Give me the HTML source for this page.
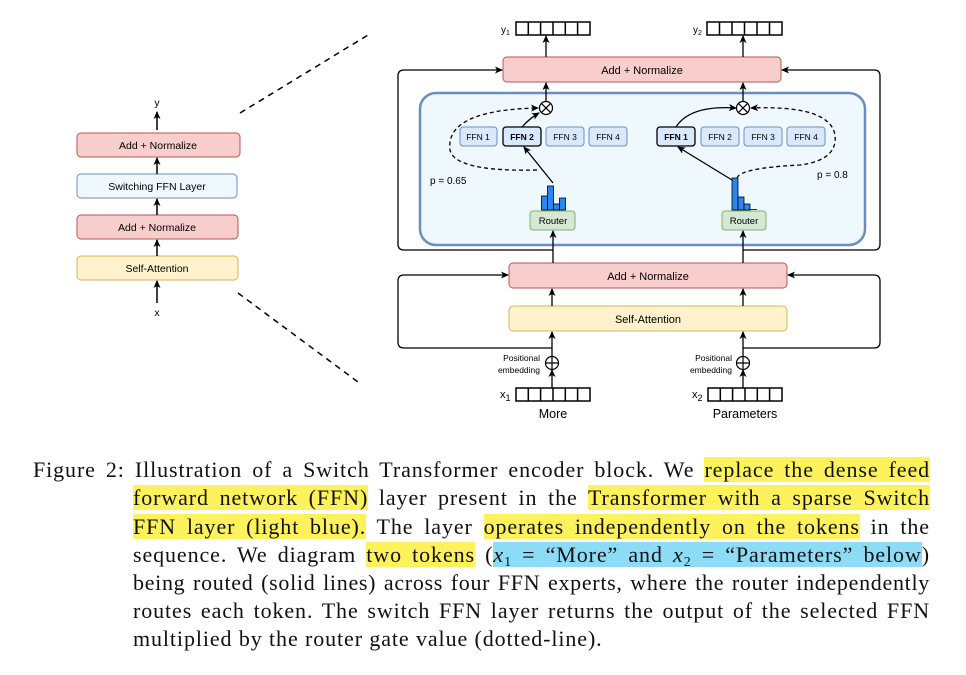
<!DOCTYPE html>
<html><head><meta charset="utf-8"><style>
body{margin:0;width:966px;height:675px;background:#fff;position:relative;overflow:hidden}
svg{position:absolute;left:0;top:0}
.cap{position:absolute;font-family:"Liberation Serif",serif;font-size:22px;letter-spacing:0.9px;line-height:28px;color:#111;white-space:nowrap}
.j{text-align:justify;text-align-last:justify;width:797px;left:133px}
.y{background:#fdf25b}.b{background:#8ddcf5}
i{font-style:italic}
sub{font-size:14px;line-height:0;vertical-align:-4px}
</style></head><body>
<svg width="966" height="675" font-family="Liberation Sans, sans-serif">
<defs><marker id="a" markerWidth="8" markerHeight="8" refX="7" refY="4" orient="auto" markerUnits="userSpaceOnUse"><path d="M0,0.5 L8,4 L0,7.5 L2,4z" fill="#000"/></marker></defs>
<g stroke="#000" stroke-width="1.5" fill="none">
<line x1="240" y1="113" x2="368" y2="35" stroke-dasharray="6,5"/>
<line x1="238" y1="293" x2="358" y2="382" stroke-dasharray="6,5"/>
</g>
<g font-size="10.5" text-anchor="middle">
<rect x="77" y="133" width="163" height="24" rx="4" fill="#f8cecc" stroke="#b85450"/>
<text x="158" y="149">Add + Normalize</text>
<rect x="77" y="174" width="160" height="24" rx="4" fill="#eef8fd" stroke="#6c8ebf"/>
<text x="157" y="190">Switching FFN Layer</text>
<rect x="77" y="215" width="161" height="24" rx="4" fill="#f8cecc" stroke="#b85450"/>
<text x="157" y="231">Add + Normalize</text>
<rect x="77" y="256" width="161" height="24" rx="4" fill="#fff2cc" stroke="#d6b656"/>
<text x="157" y="272">Self-Attention</text>
<text x="157" y="106">y</text><text x="157" y="316">x</text>
</g>
<g stroke="#000" stroke-width="1.5" marker-end="url(#a)">
<line x1="157" y1="130" x2="157" y2="112"/><line x1="157" y1="174" x2="157" y2="158"/>
<line x1="157" y1="215" x2="157" y2="199"/><line x1="157" y1="256" x2="157" y2="240"/>
<line x1="157" y1="303" x2="157" y2="281"/>
</g>
<g stroke="#000" stroke-width="1.3" fill="none">
<path d="M553,250 H404 Q398,250 398,244 V76 Q398,70 404,70 H502" marker-end="url(#a)"/>
<path d="M743,250 H874 Q880,250 880,244 V76 Q880,70 874,70 H782" marker-end="url(#a)"/>
<path d="M552,348 H404 Q398,348 398,342 V281 Q398,275 404,275 H508" marker-end="url(#a)"/>
<path d="M743,348 H874 Q880,348 880,342 V281 Q880,275 874,275 H788" marker-end="url(#a)"/>
</g>
<rect x="420" y="93" width="445" height="152" rx="16" fill="#eef8fd" stroke="#6c8ebf" stroke-width="2.5"/>
<g font-size="11" text-anchor="middle">
<rect x="503" y="57" width="278" height="25" rx="4" fill="#f8cecc" stroke="#b85450"/>
<text x="642" y="74">Add + Normalize</text>
<rect x="509" y="263" width="278" height="25" rx="4" fill="#f8cecc" stroke="#b85450"/>
<text x="648" y="280">Add + Normalize</text>
<rect x="509" y="306" width="278" height="25" rx="4" fill="#fff2cc" stroke="#d6b656"/>
<text x="648" y="323">Self-Attention</text>
</g>
<g font-size="8.5" text-anchor="middle">
<rect x="460" y="127" width="37" height="19" rx="3" fill="#dae8fc" stroke="#6c8ebf"/><text x="478" y="140">FFN 1</text>
<rect x="503" y="127" width="38" height="19" rx="3" fill="#dae8fc" stroke="#000" stroke-width="1.3"/><text x="522" y="140" font-weight="bold">FFN 2</text>
<rect x="546" y="127" width="38" height="19" rx="3" fill="#dae8fc" stroke="#6c8ebf"/><text x="565" y="140">FFN 3</text>
<rect x="589" y="127" width="38" height="19" rx="3" fill="#dae8fc" stroke="#6c8ebf"/><text x="608" y="140">FFN 4</text>
<rect x="657" y="127" width="38" height="19" rx="3" fill="#dae8fc" stroke="#000" stroke-width="1.3"/><text x="676" y="140" font-weight="bold">FFN 1</text>
<rect x="701" y="127" width="38" height="19" rx="3" fill="#dae8fc" stroke="#6c8ebf"/><text x="720" y="140">FFN 2</text>
<rect x="744" y="127" width="38" height="19" rx="3" fill="#dae8fc" stroke="#6c8ebf"/><text x="763" y="140">FFN 3</text>
<rect x="787" y="127" width="38" height="19" rx="3" fill="#dae8fc" stroke="#6c8ebf"/><text x="806" y="140">FFN 4</text>
<rect x="530" y="211" width="45" height="19" rx="3" fill="#d5e8d4" stroke="#82b366"/><text x="553" y="224" font-size="9.5">Router</text>
<rect x="722" y="211" width="44" height="19" rx="3" fill="#d5e8d4" stroke="#82b366"/><text x="744" y="224" font-size="9.5">Router</text>
</g>
<g fill="#2a86f0" stroke="#000" stroke-width="0.8">
<rect x="541.5" y="196" width="6" height="14"/><rect x="547.5" y="186" width="6" height="24"/><rect x="553.5" y="204" width="6" height="6"/><rect x="559.5" y="198" width="6" height="12"/>
<rect x="732" y="178" width="6" height="32"/><rect x="738" y="197" width="6" height="13"/><rect x="744" y="204" width="6" height="6"/><line x1="750" y1="209.5" x2="757" y2="209.5"/>
</g>
<g font-size="10"><text x="430" y="184">p = 0.65</text><text x="817" y="178">p = 0.8</text></g>
<g stroke="#000" stroke-width="1.2" fill="#fff">
<circle cx="546" cy="108" r="6.5"/><path d="M541.4,103.4 L550.6,112.6 M550.6,103.4 L541.4,112.6"/>
<circle cx="743" cy="108" r="6.5"/><path d="M738.4,103.4 L747.6,112.6 M747.6,103.4 L738.4,112.6"/>
<circle cx="552" cy="363" r="6.5"/><path d="M545.5,363 H558.5 M552,356.5 V369.5"/>
<circle cx="743" cy="363" r="6.5"/><path d="M736.5,363 H749.5 M743,356.5 V369.5"/>
</g>
<g stroke="#000" stroke-width="1.3" fill="none" marker-end="url(#a)">
<line x1="546" y1="101" x2="546" y2="83"/><line x1="743" y1="101" x2="743" y2="83"/>
<line x1="546" y1="57" x2="546" y2="36"/><line x1="743" y1="57" x2="743" y2="36"/>
<line x1="553" y1="263" x2="553" y2="231"/><line x1="743" y1="263" x2="743" y2="231"/>
<line x1="552" y1="306" x2="552" y2="289"/><line x1="743" y1="306" x2="743" y2="289"/>
<line x1="552" y1="356" x2="552" y2="332"/><line x1="743" y1="356" x2="743" y2="332"/>
<line x1="552" y1="388" x2="552" y2="370"/><line x1="743" y1="388" x2="743" y2="370"/>
<line x1="553" y1="183" x2="524" y2="147"/><line x1="732" y1="180" x2="678" y2="147"/>
<path d="M522,127 Q530,118 539,113"/>
<path d="M676,127 Q690,105 736,108"/>
<path d="M537,170 Q455,172 450,150 Q445,110 538,108" stroke-dasharray="4,3"/>
<path d="M737,178 Q740,168 800,165 Q838,160 835,135 Q830,105 751,108" stroke-dasharray="4,3"/>
</g>
<g stroke="#000" stroke-width="1.5" fill="#fff">
<rect x="516" y="22" width="74" height="13"/><path d="M528.3,22V35M540.6,22V35M553,22V35M565.3,22V35M577.6,22V35"/>
<rect x="707" y="22" width="75" height="13"/><path d="M719.5,22V35M732,22V35M744.5,22V35M757,22V35M769.5,22V35"/>
<rect x="516" y="388" width="74" height="13"/><path d="M528.3,388V401M540.6,388V401M553,388V401M565.3,388V401M577.6,388V401"/>
<rect x="708" y="388" width="74" height="13"/><path d="M720.3,388V401M732.6,388V401M745,388V401M757.3,388V401M769.6,388V401"/>
</g>
<g font-size="10">
<text x="501" y="33">y<tspan font-size="7" dy="2">1</tspan></text>
<text x="693" y="33">y<tspan font-size="7" dy="2">2</tspan></text>
<text x="500" y="398" font-size="11">x<tspan font-size="9" dy="3">1</tspan></text>
<text x="692" y="398" font-size="11">x<tspan font-size="9" dy="3">2</tspan></text>
</g>
<g font-size="8.5" text-anchor="end">
<text x="540" y="361">Positional</text><text x="540" y="373">embedding</text>
<text x="732" y="361">Positional</text><text x="732" y="373">embedding</text>
</g>
<g font-size="12.5" text-anchor="middle"><text x="553" y="418">More</text><text x="745" y="418">Parameters</text></g>
</svg>
<div class="cap" style="left:33px;top:456px;width:897px;text-align:justify;text-align-last:justify">Figure 2: Illustration of a Switch Transformer encoder block. We <span class="y">replace the dense feed</span></div>
<div class="cap j" style="top:484px"><span class="y">forward network (FFN)</span> layer present in the <span class="y">Transformer with a sparse Switch</span></div>
<div class="cap j" style="top:513px"><span class="y">FFN layer (light blue).</span> The layer <span class="y">operates independently on the tokens</span> in the</div>
<div class="cap j" style="top:541px">sequence. We diagram <span class="y">two tokens</span> (<span class="b"><i>x</i><sub>1</sub> = “More” and <i>x</i><sub>2</sub> = “Parameters” below</span>)</div>
<div class="cap j" style="top:569px;letter-spacing:0.7px">being routed (solid lines) across four FFN experts, where the router independently</div>
<div class="cap j" style="top:597px">routes each token. The switch FFN layer returns the output of the selected FFN</div>
<div class="cap" style="left:133px;top:625px">multiplied by the router gate value (dotted-line).</div>
</body></html>
